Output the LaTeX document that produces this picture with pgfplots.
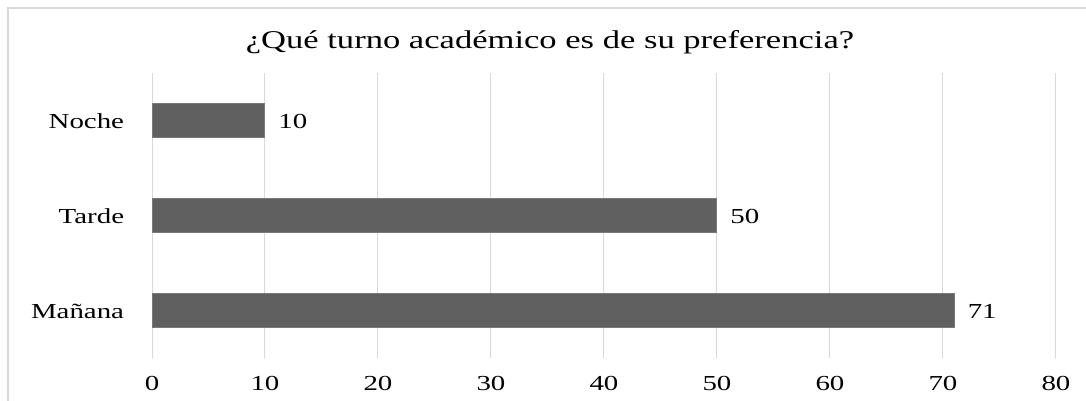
\documentclass[border=0pt]{standalone}
\usepackage{pgfplots}
\pgfplotsset{compat=1.18}
\usepackage{fontspec}
\setmainfont{Liberation Serif}[FakeStretch=1.35]
\definecolor{barc}{HTML}{606060}
\definecolor{gridc}{HTML}{D9D9D9}
\begin{document}
\begin{tikzpicture}[x=1pt,y=1pt]
\useasboundingbox (0,0) rectangle (543,200.5);
\draw[gridc, line width=0.8pt] (4,-5) -- (4,196.5) -- (560,196.5);
\node[font=\fontsize{12.8}{14}\selectfont, anchor=center] at (275,179.5) {¿Qué turno académico es de su preferencia?};
\begin{axis}[
 at={(76pt,21.25pt)}, anchor=south west, scale only axis,
 width=452pt, height=142.5pt,
 xmin=0, xmax=80, ymin=-0.5, ymax=2.5,
 xtick={0,10,...,80}, ytick={0,1,2}, yticklabels={Mañana,Tarde,Noche},
 xbar, bar width=17pt,
 xmajorgrids, major grid style={gridc, line width=0.5pt},
 axis line style={draw=none}, tick style={draw=none},
 ticklabel style={font=\fontsize{10.7}{12}\selectfont},
 /pgf/number format/assume math mode=true,
 x tick label style={anchor=center, yshift=-12.5pt, inner sep=0pt},
 y tick label style={anchor=east, inner sep=0pt, xshift=-9.5pt},
 nodes near coords,
 nodes near coords style={font=\fontsize{10.7}{12}\selectfont, anchor=west, inner sep=0pt, xshift=6.5pt},
]
\addplot[fill=barc, draw=barc!85!white, line width=0.5pt] coordinates {(71,0) (50,1) (10,2)};
\end{axis}
\end{tikzpicture}
\end{document}
